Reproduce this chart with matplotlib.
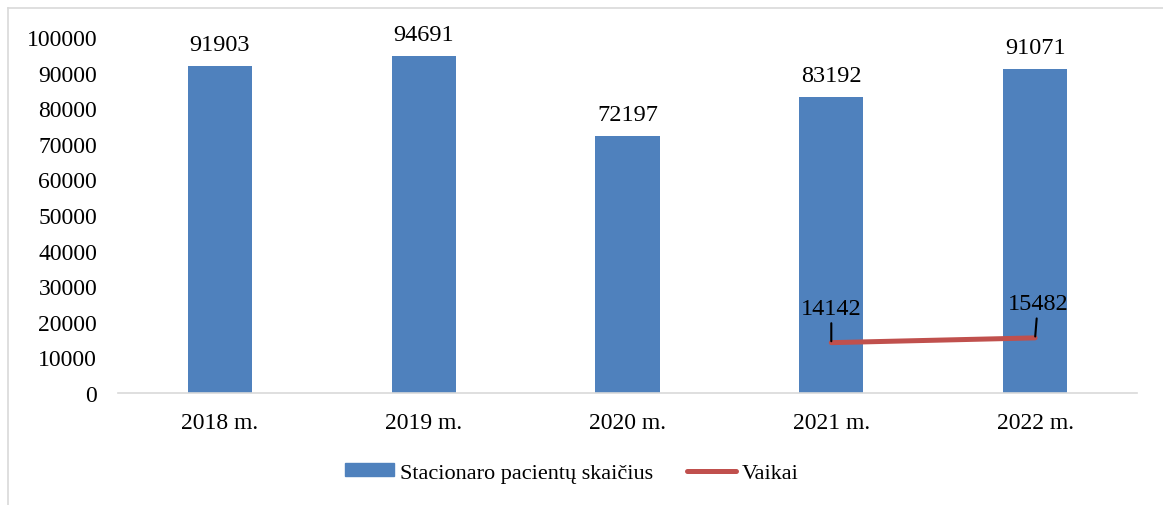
import matplotlib
matplotlib.use("Agg")
import matplotlib.pyplot as plt
from matplotlib.lines import Line2D

categories = ["2018 m.", "2019 m.", "2020 m.", "2021 m.", "2022 m."]
patients = [91903, 94691, 72197, 83192, 91071]
kids_idx = [3, 4]
kids = [14142, 15482]
yticks = list(range(0, 100001, 10000))

plt.rcParams['font.family'] = ['Liberation Serif', 'DejaVu Serif']
FS_TICK = 17
FS_LAB = 17.5
FS_LEG = 16

fig = plt.figure(figsize=(11.63, 5.06), dpi=100)
ax = fig.add_axes([118/1163, 1-394/506, (1137-118)/1163, (394-38)/506])

x = list(range(len(categories)))
ax.bar(x, patients, width=0.315, color="#4F81BD", zorder=2)
ax.plot(kids_idx, kids, color="#C0504D", lw=3.6, solid_capstyle="round", zorder=3)

ax.set_xlim(-0.5, len(categories)-0.5)
ax.set_ylim(0, 100000)
ax.set_yticks(yticks)
ax.set_yticklabels([str(v) for v in yticks], fontsize=FS_TICK)
ax.set_xticks(x)
ax.set_xticklabels(categories, fontsize=FS_TICK)
ax.tick_params(axis='y', length=0, pad=15)
ax.tick_params(axis='x', length=0, pad=14)
for s in ["top", "right", "left"]:
    ax.spines[s].set_visible(False)
ax.spines["bottom"].set_color("#D9D9D9")
ax.spines["bottom"].set_linewidth(1.2)

for xi, v in zip(x, patients):
    ax.annotate(str(v), (xi, v), xytext=(0, 8), textcoords="offset points",
                ha="center", va="bottom", fontsize=FS_LAB)

# line labels with leader lines
offsets = [(0, 17), (2, 17)]
for xi, v, (dx, dy) in zip(kids_idx, kids, offsets):
    ax.annotate(str(v), (xi, v), xytext=(dx, dy), textcoords="offset points",
                ha="center", va="bottom", fontsize=FS_LAB,
                arrowprops=dict(arrowstyle="-", color="black", lw=1.5,
                                shrinkA=1, shrinkB=1))

handles = [plt.Rectangle((0, 0), 1, 1, color="#4F81BD"),
           Line2D([0], [0], color="#C0504D", lw=3.6, solid_capstyle="round")]
fig.legend(handles, ["Stacionaro pacientų skaičius", "Vaikai"],
           loc="center", bbox_to_anchor=(572/1163, 1-474/506), ncol=2,
           frameon=False, fontsize=FS_LEG, handlelength=2.2, handletextpad=0.27,
           columnspacing=1.5, handleheight=0.5)

# outer border (left and top)
fig.add_artist(Line2D([8/1163, 8/1163], [0, 1-9/506], color="#D9D9D9", lw=1.2,
                      transform=fig.transFigure))
fig.add_artist(Line2D([8/1163, 1], [1-9/506, 1-9/506], color="#D9D9D9", lw=1.2,
                      transform=fig.transFigure))

fig.savefig("out.png", dpi=100)
